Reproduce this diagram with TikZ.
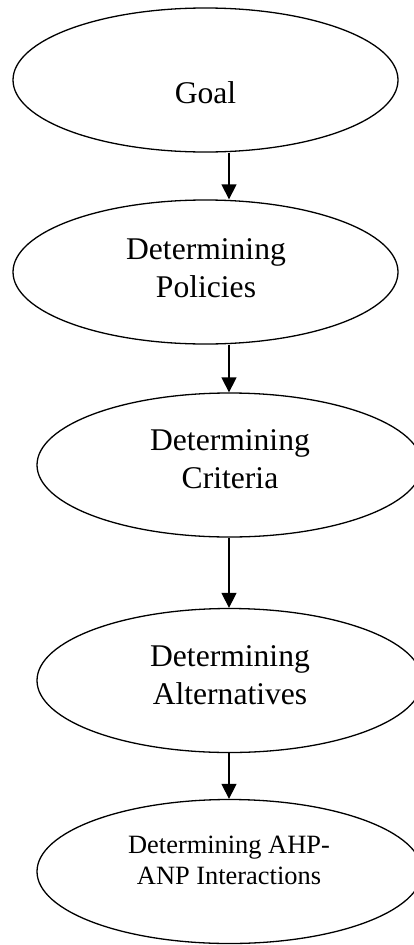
\documentclass[tikz,border=0pt]{standalone}
\usepackage{fontspec}
\setmainfont{Liberation Serif}
\usetikzlibrary{shapes.geometric,arrows.meta}
\begin{document}
\begin{tikzpicture}[x=1pt,y=1pt,
  stage/.style={draw=black, line width=1.3pt, ellipse, inner sep=0pt,
    minimum width=385pt, minimum height=144pt},
  label/.style={anchor=base, align=center, inner sep=0pt,
    font=\fontsize{31.6}{38}\selectfont},
  small/.style={font=\fontsize{26.4}{31}\selectfont},
  flow/.style={draw=black, line width=1.3pt,
    -{Triangle[width=15pt,length=15pt]}}]
  \useasboundingbox (0,0) rectangle (414,-945);

  % process stages
  \node[stage] (e1) at (205.5,-80) {};
  \node[stage] (e2) at (205.5,-272) {};
  \node[stage] (e3) at (229.5,-465) {};
  \node[stage] (e4) at (229.5,-680.5) {};
  \node[stage] (e5) at (229.5,-871.5) {};

  % stage texts (base anchor sits on the last line)
  \node[label] (t1) at (205.5,-103) {Goal};
  \node[label] (t2) at (206,-297) {Determining\\Policies};
  \node[label] (t3) at (230,-488) {Determining\\Criteria};
  \node[label] (t4) at (230,-704) {Determining\\Alternatives};
  \node[label,small] (t5) at (229,-884) {Determining AHP-\\ANP Interactions};

  % connectors along the common vertical line
  \coordinate (axis) at (229,0);
  \draw[flow] (e1.south -| axis) -- (e2.north -| axis);
  \draw[flow] (e2.south -| axis) -- (e3.north -| axis);
  \draw[flow] (e3.south -| axis) -- (e4.north -| axis);
  \draw[flow] (e4.south -| axis) -- (e5.north -| axis);
\end{tikzpicture}
\end{document}
